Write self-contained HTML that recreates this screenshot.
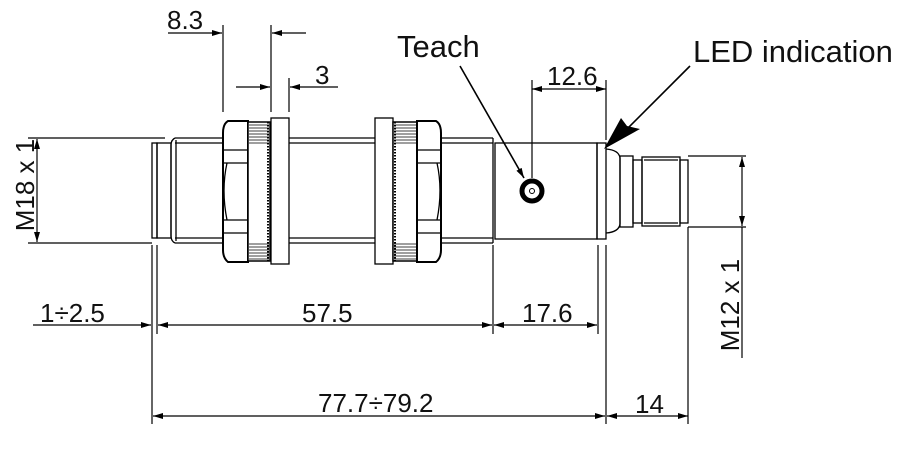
<!DOCTYPE html>
<html><head><meta charset="utf-8"><style>
html,body{margin:0;padding:0;background:#fff;}
svg{display:block;}
text{font-family:"Liberation Sans",sans-serif;fill:#111;}
</style></head><body>
<svg width="907" height="456" viewBox="0 0 907 456" xmlns="http://www.w3.org/2000/svg">
<defs>
<marker id="a" viewBox="0 0 10 6" refX="10" refY="3" markerWidth="14" markerHeight="6" markerUnits="userSpaceOnUse" orient="auto-start-reverse"><path d="M0,0 L10,3 L0,6 Z" fill="#000"/></marker>
</defs>
<g stroke="#000" stroke-width="1.3" fill="none">
<rect x="152" y="143" width="5" height="95"/>
<rect x="157" y="143" width="14" height="95"/>
<path d="M175,138 L493,138 M175,143 L493,143 M175,238 L493,238 M175,243 L493,243"/>
<path d="M175,138 Q171,140 171,145 L171,236 Q171,241 175,243"/>
<line x1="176" y1="140" x2="176" y2="241"/>
<line x1="493" y1="138" x2="493" y2="243"/>
<g fill="#fff">
<path d="M228,121 L248,121 L248,262 L228,262 Q223,258 223,250 L223,133 Q223,124 228,121 Z" stroke-width="2"/>
<path d="M223,150 L248,150 M223,163 L248,163 M223,220 L248,220 M223,233 L248,233 M227,163 Q221,190 227,220"/>
<rect x="248" y="122" width="22" height="139" stroke-width="1.5"/>
<rect x="271" y="118" width="18" height="146"/>
<rect x="375" y="118" width="18" height="146"/>
<rect x="393" y="122" width="24" height="139" stroke-width="1.5"/>
<path d="M417,121 L436,121 Q441,124 441,133 L441,250 Q441,258 436,262 L417,262 Z" stroke-width="2"/>
<path d="M417,150 L441,150 M417,163 L441,163 M417,220 L441,220 M417,233 L441,233 M437,163 Q443,190 437,220"/>
</g>
<path d="M249,125 L269,125 M249,128 L269,128 M249,131 L269,131 M249,134 L269,134 M249,137 L269,137 M249,140 L269,140 M249,143 L269,143 M249,244 L269,244 M249,247 L269,247 M249,250 L269,250 M249,253 L269,253 M249,256 L269,256 M249,259 L269,259" stroke-width="0.8"/>
<path d="M394,125 L416,125 M394,128 L416,128 M394,131 L416,131 M394,134 L416,134 M394,137 L416,137 M394,140 L416,140 M394,143 L416,143 M394,244 L416,244 M394,247 L416,247 M394,250 L416,250 M394,253 L416,253 M394,256 L416,256 M394,259 L416,259" stroke-width="0.8"/>
<line x1="268" y1="122" x2="268" y2="261" stroke-dasharray="1.5,1.5" stroke-width="2"/>
<line x1="395" y1="122" x2="395" y2="261" stroke-dasharray="1.5,1.5" stroke-width="2"/>
<rect x="495" y="143" width="102" height="96"/>
<rect x="597" y="143" width="9" height="96"/>
<path d="M606,149 Q619,150 620,158 L620,224 Q619,232 606,233"/>
<rect x="620" y="156" width="13" height="71"/>
<rect x="633" y="160" width="9" height="63"/>
<rect x="642" y="157" width="38" height="69"/>
<path d="M644,160 L678,160 M644,223 L678,223"/>
<rect x="680" y="160" width="8" height="63"/>
<circle cx="532" cy="191" r="10" stroke-width="5"/>
<circle cx="532" cy="191" r="2.5" stroke-width="1"/>
</g>
<g stroke="#000" stroke-width="1.2" fill="none">
<path d="M28,138 L165,138 M28,243 L152,243"/>
<line x1="37" y1="139" x2="37" y2="242" marker-start="url(#a)" marker-end="url(#a)"/>
<path d="M223,25 L223,112 M271,25 L271,112 M289,78 L289,112"/>
<line x1="168" y1="33" x2="222" y2="33" marker-end="url(#a)"/>
<line x1="306" y1="33" x2="272" y2="33" marker-end="url(#a)"/>
<line x1="236" y1="87" x2="270" y2="87" marker-end="url(#a)"/>
<line x1="338" y1="87" x2="290" y2="87" marker-end="url(#a)"/>
<path d="M532,80 L532,178 M606,80 L606,140"/>
<line x1="532" y1="89" x2="606" y2="89" marker-start="url(#a)" marker-end="url(#a)"/>
<line x1="460" y1="66" x2="524" y2="178" stroke-width="1.6" marker-end="url(#a)"/>
<line x1="690" y1="66" x2="626" y2="130" stroke-width="1.6"/>
<path d="M604,149 L621,118 L627,126 L640,129 Z" fill="#000" stroke="none"/>
<path d="M152,245 L152,424 M157,245 L157,334 M493,245 L493,334 M598,245 L598,334 M606,245 L606,424 M688,227 L688,424 M742,227 L742,358"/>
<path d="M688,156 L746,156 M688,227 L746,227"/>
<line x1="742" y1="157" x2="742" y2="226" marker-start="url(#a)" marker-end="url(#a)"/>
<line x1="33" y1="325" x2="151" y2="325" marker-end="url(#a)"/>
<line x1="158" y1="325" x2="492" y2="325" marker-start="url(#a)" marker-end="url(#a)"/>
<line x1="494" y1="325" x2="597" y2="325" marker-start="url(#a)" marker-end="url(#a)"/>
<line x1="153" y1="416" x2="605" y2="416" marker-start="url(#a)" marker-end="url(#a)"/>
<line x1="607" y1="416" x2="688" y2="416" marker-start="url(#a)" marker-end="url(#a)"/>
</g>
<g font-size="26">
<text x="167" y="29">8.3</text>
<text x="315" y="84">3</text>
<text x="547" y="85">12.6</text>
<text x="40" y="322">1÷2.5</text>
<text x="302" y="322">57.5</text>
<text x="522" y="322">17.6</text>
<text x="318" y="412">77.7÷79.2</text>
<text x="635" y="413">14</text>
<text transform="translate(34,185) rotate(-90)" text-anchor="middle">M18 x 1</text>
<text transform="translate(739,305) rotate(-90)" text-anchor="middle">M12 x 1</text>
</g>
<text x="397" y="57" font-size="31">Teach</text>
<text x="693" y="62" font-size="31">LED indication</text>
</svg>
</body></html>
